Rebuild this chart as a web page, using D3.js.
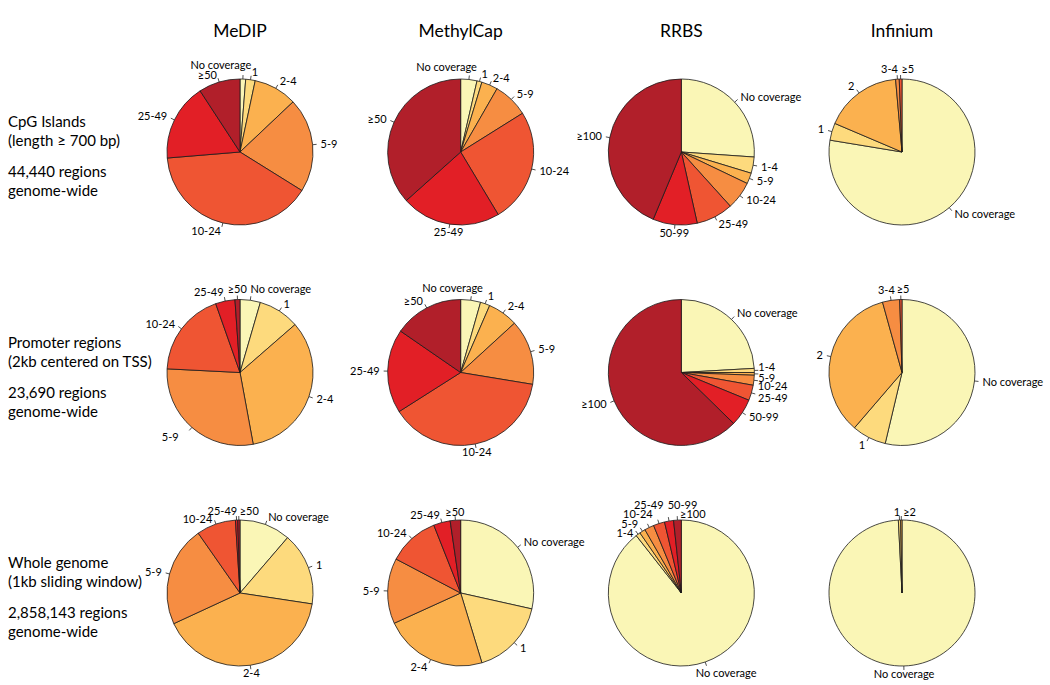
<!DOCTYPE html>
<html>
<head>
<meta charset="utf-8">
<script src="https://cdn.jsdelivr.net/npm/d3@7"></script>
<style>
  body { margin: 0; background: #fff; }
  svg { display: block; font-family: Lato, "Open Sans", sans-serif; }
</style>
</head>
<body>
<svg width="1050" height="685"></svg>
<script>
// column and row headings
let columnTitles = ["MeDIP", "MethylCap", "RRBS", "Infinium"];
let rowNames = ["cpg", "promoter", "whole"];
let rowLabels = [
  ["CpG Islands", "(length ≥ 700 bp)", "44,440 regions", "genome-wide"],
  ["Promoter regions", "(2kb centered on TSS)", "23,690 regions", "genome-wide"],
  ["Whole genome", "(1kb sliding window)", "2,858,143 regions", "genome-wide"]
];

// coverage categories
let captureCats = ["No coverage", "1", "2-4", "5-9", "10-24", "25-49", "≥50"];
let rrbsCats = ["No coverage", "1-4", "5-9", "10-24", "25-49", "50-99", "≥100"];
let infiniumCats = ["No coverage", "1", "2", "3-4", "≥5"];
let infiniumWholeCats = ["No coverage", "1", "≥2"];

// percent of regions in each category
let medipCpG = [1.25, 2.1, 9.6, 20.9, 39.8, 17.1, 9.2];
let methylcapCpG = [3.6, 1.1, 3.6, 7.8, 25.3, 22.0, 36.6];
let rrbsCpG = [26.1, 3.6, 2.4, 6.2, 8.2, 9.8, 43.7];
let infiniumCpG = [77.6, 3.8, 17.2, 0.8, 0.6];
let medipPromoter = [4.5, 9.1, 33.5, 28.7, 18.8, 4.3, 1.1];
let methylcapPromoter = [4.4, 2.1, 6.7, 14.4, 38.4, 18.6, 15.4];
let rrbsPromoter = [24.1, 0.9, 0.6, 2.2, 3.4, 6.1, 62.7];
let infiniumPromoter = [53.7, 7.6, 34.4, 3.8, 0.5];
let medipWhole = [11.3, 16.1, 40.7, 22.2, 8.7, 0.5, 0.5];
let methylcapWhole = [28.5, 16.8, 22.9, 14.5, 11.3, 3.7, 2.3];
let rrbsWhole = [89.4, 1.0, 1.3, 2.1, 2.5, 2.0, 1.7];
let infiniumWhole = [99.2, 0.5, 0.3];

let pies = [
  {row: "cpg", col: "MeDIP", cats: captureCats, values: medipCpG},
  {row: "cpg", col: "MethylCap", cats: captureCats, values: methylcapCpG},
  {row: "cpg", col: "RRBS", cats: rrbsCats, values: rrbsCpG},
  {row: "cpg", col: "Infinium", cats: infiniumCats, values: infiniumCpG},
  {row: "promoter", col: "MeDIP", cats: captureCats, values: medipPromoter},
  {row: "promoter", col: "MethylCap", cats: captureCats, values: methylcapPromoter},
  {row: "promoter", col: "RRBS", cats: rrbsCats, values: rrbsPromoter},
  {row: "promoter", col: "Infinium", cats: infiniumCats, values: infiniumPromoter},
  {row: "whole", col: "MeDIP", cats: captureCats, values: medipWhole},
  {row: "whole", col: "MethylCap", cats: captureCats, values: methylcapWhole},
  {row: "whole", col: "RRBS", cats: rrbsCats, values: rrbsWhole},
  {row: "whole", col: "Infinium", cats: infiniumWholeCats, values: infiniumWhole}
];

// hand placement for crowded labels: [anchor, dx, dy]
let labelNudge = {
  "cpg-MeDIP": {"No coverage": ["end", 8, -6], "1": ["start", 0, 0], "≥50": [null, 0, 1]},
  "cpg-MethylCap": {"No coverage": ["end", 7, -4]},
  "cpg-Infinium": {"3-4": ["end", 1, -2], "≥5": ["start", 1, -2]},
  "promoter-MeDIP": {"No coverage": ["start", -1, -3], "≥50": ["middle", 0, -2], "25-49": ["end", 0, -1], "5-9": ["end", -8, 4]},
  "promoter-MethylCap": {"No coverage": ["end", 11, -4]},
  "promoter-RRBS": {"1-4": [null, -4, -3], "5-9": [null, -4, 4], "10-24": [null, -4, 5], "25-49": [null, -1, 3]},
  "promoter-Infinium": {"3-4": ["end", 5, -2], "≥5": ["start", -4, -2]},
  "whole-MeDIP": {"25-49": ["end", 1, -1], "≥50": ["start", 1, -1], "10-24": [null, -1, 3]},
  "whole-RRBS": {"No coverage": ["start", -12, 4], "1-4": [null, 0, 5], "10-24": [null, 7, -6], "25-49": [null, 7, -11], "50-99": ["start", 0, -8], "≥100": ["start", 3, 2]},
  "whole-Infinium": {"1": ["end", 1, 0], "≥2": ["start", 2, 0]}
};

let colors = ["#faf6b6", "#fdda7d", "#fbb14f", "#f68d42", "#ef5533", "#e21f26", "#b11f2a"];

let svg = d3.select("svg");
let r = 73;

let x = d3.scalePoint().domain(columnTitles).range([240, 902]);
let y = d3.scalePoint().domain(rowNames).range([152, 593]);

let pie = d3.pie().sort(null).value(function(d) { return d; });
let arc = d3.arc().innerRadius(0).outerRadius(r);

// column titles
svg.append("g")
    .attr("font-size", 17.5)
    .attr("text-anchor", "middle")
  .selectAll("text")
  .data(columnTitles)
  .enter().append("text")
    .attr("x", function(d) { return x(d); })
    .attr("y", 37)
    .text(function(d) { return d; });

// row labels
rowNames.forEach(function(name, i) {
  let cy = y(name);
  let offs = [-25, -6, 25, 44];
  svg.append("g")
      .attr("font-size", 15)
    .selectAll("text")
    .data(rowLabels[i])
    .enter().append("text")
      .attr("x", 8)
      .attr("y", function(d, j) { return cy + offs[j]; })
      .text(function(d) { return d; });
});

pies.forEach(function(p) {
  let key = p.row + "-" + p.col;
  let nudge = labelNudge[key] || {};
  let g = svg.append("g")
      .attr("transform", "translate(" + x(p.col) + "," + y(p.row) + ")");

  let slices = pie(p.values);

  g.selectAll("path")
    .data(slices)
    .enter().append("path")
      .attr("d", arc)
      .attr("fill", function(d, i) { return colors[i]; })
      .attr("stroke", "#1a1a1a")
      .attr("stroke-width", 0.8)
      .attr("stroke-linejoin", "round");

  let lab = g.append("g")
      .attr("font-size", 11)
    .selectAll("g")
    .data(slices)
    .enter().append("g");

  lab.append("line")
      .attr("x1", function(d) { return r * Math.sin(mid(d)); })
      .attr("y1", function(d) { return -r * Math.cos(mid(d)); })
      .attr("x2", function(d) { return (r + 4) * Math.sin(mid(d)); })
      .attr("y2", function(d) { return -(r + 4) * Math.cos(mid(d)); })
      .attr("stroke", "#222")
      .attr("stroke-width", 0.8);

  lab.append("text")
      .attr("x", function(d, i) {
        let n = nudge[p.cats[i]];
        return (r + 8) * Math.sin(mid(d)) + (n ? n[1] : 0);
      })
      .attr("y", function(d, i) {
        let n = nudge[p.cats[i]];
        return -(r + 8) * Math.cos(mid(d)) + (n ? n[2] : 0);
      })
      .attr("dy", "0.35em")
      .attr("text-anchor", function(d, i) {
        let n = nudge[p.cats[i]];
        if (n && n[0]) return n[0];
        let s = Math.sin(mid(d));
        return s > 0.2 ? "start" : s < -0.2 ? "end" : "middle";
      })
      .text(function(d, i) { return p.cats[i]; });
});

function mid(d) { return (d.startAngle + d.endAngle) / 2; }
</script>
</body>
</html>
